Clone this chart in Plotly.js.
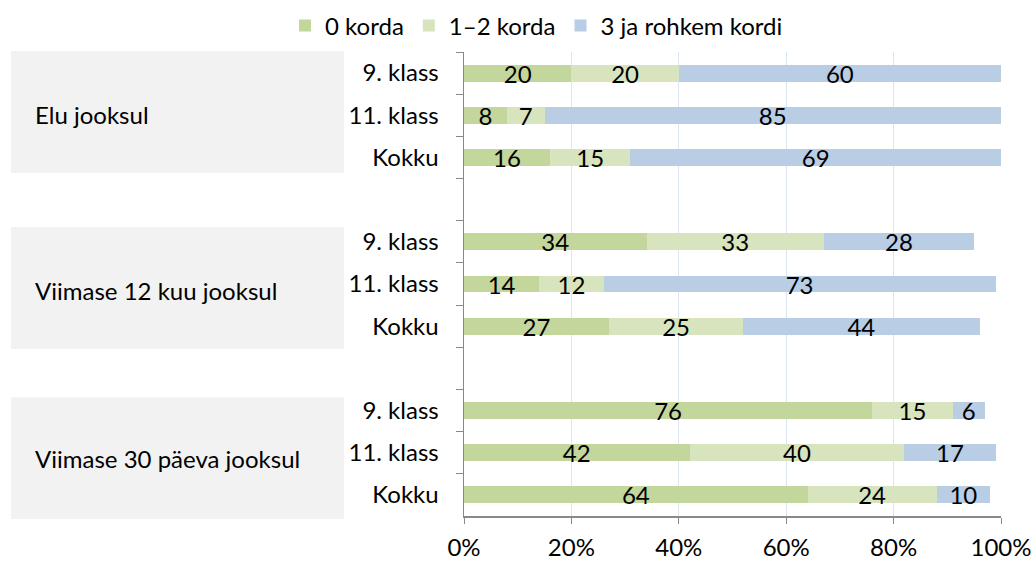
<!DOCTYPE html>
<html><head><meta charset="utf-8">
<script src="https://cdn.plot.ly/plotly-3.0.1.min.js"></script>
<style>body{margin:0;background:#fff}#chart{width:1036px;height:561px}</style>
</head><body><div id="chart"></div>
<script>
// Categories (top to bottom); zero-width spaces keep repeated names unique, blanks are gap rows
var rows = ["9. klass", "11. klass", "Kokku", " ",
            "9. klass\u200B", "11. klass\u200B", "Kokku\u200B", "  ",
            "9. klass\u200B\u200B", "11. klass\u200B\u200B", "Kokku\u200B\u200B"];
var groups = ["Elu jooksul", "Viimase 12 kuu jooksul", "Viimase 30 päeva jooksul"];
var seriesNames = ["0 korda", "1\u20132 korda", "3 ja rohkem kordi"];
var korda0   = [20, 8, 16, null, 34, 14, 27, null, 76, 42, 64];
var korda12  = [20, 7, 15, null, 33, 12, 25, null, 15, 40, 24];
var korda3   = [60, 85, 69, null, 28, 73, 44, null, 6, 17, 10];
var xTickVals = [0, 20, 40, 60, 80, 100];
var xTickText = ["0%", "20%", "40%", "60%", "80%", "100%"];

var colors = ["#c3d69b", "#d7e4bd", "#b9cde5"];
var font = "Lato, 'Open Sans', sans-serif";
var fs = 24;
var seriesVals = [korda0, korda12, korda3];
var traces = seriesVals.map(function(vals, i){
  return {
    type: "bar", orientation: "h", name: seriesNames[i],
    y: rows, x: vals,
    marker: {color: colors[i], line: {width: 0}},
    text: vals.map(function(v){ return v == null ? "" : String(v); }),
    textposition: "inside", insidetextanchor: "middle", textangle: 0,
    textfont: {color: "#000", size: fs, family: font},
    constraintext: "none", cliponaxis: false,
    hoverinfo: "x+y"
  };
});

var boxes = [[1.002, 0.739], [0.623, 0.360], [0.256, -0.0065]];
var labelY = [0.866, 0.487, 0.125];
var shapes = boxes.map(function(b){
  return {type: "rect", xref: "paper", yref: "paper", x0: -0.8436, x1: -0.2235, y0: b[1], y1: b[0],
          fillcolor: "#f2f2f2", line: {width: 0}, layer: "below"};
});
var annotations = groups.map(function(g, i){
  return {xref: "paper", yref: "paper", x: -0.8026, y: labelY[i], xanchor: "left", yanchor: "middle",
          text: g, showarrow: false, font: {size: fs, family: font, color: "#000"}};
});

var layout = {
  width: 1036, height: 561,
  margin: {l: 464, r: 35, t: 52, b: 45, autoexpand: false},
  barmode: "stack", bargap: 0.6,
  paper_bgcolor: "#fff", plot_bgcolor: "#fff",
  font: {family: font, size: fs, color: "#000"},
  showlegend: true,
  legend: {orientation: "h", x: 0.135, xanchor: "center", y: 1.056, yanchor: "middle",
           font: {size: fs, family: font}, traceorder: "normal", itemwidth: 30},
  xaxis: {range: [0, 100], tickvals: xTickVals, ticktext: xTickText,
          showgrid: true, gridcolor: "#dce6f2", gridwidth: 1,
          showline: true, linecolor: "#888", linewidth: 1.5,
          ticks: "outside", ticklen: 6, tickcolor: "#888", zeroline: false,
          ticklabelstandoff: 4,
          tickfont: {size: fs, family: font}, fixedrange: true, automargin: false},
  yaxis: {type: "category", categoryorder: "array", categoryarray: rows,
          autorange: "reversed", tickson: "boundaries",
          ticks: "outside", ticklen: 7, tickcolor: "#888",
          showline: true, linecolor: "#888", linewidth: 1.5, showgrid: false,
          ticklabelstandoff: 19, automargin: false,
          tickfont: {size: fs, family: font}, fixedrange: true},
  shapes: shapes, annotations: annotations
};
Plotly.newPlot("chart", traces, layout, {displayModeBar: false, staticPlot: true});
</script></body></html>
